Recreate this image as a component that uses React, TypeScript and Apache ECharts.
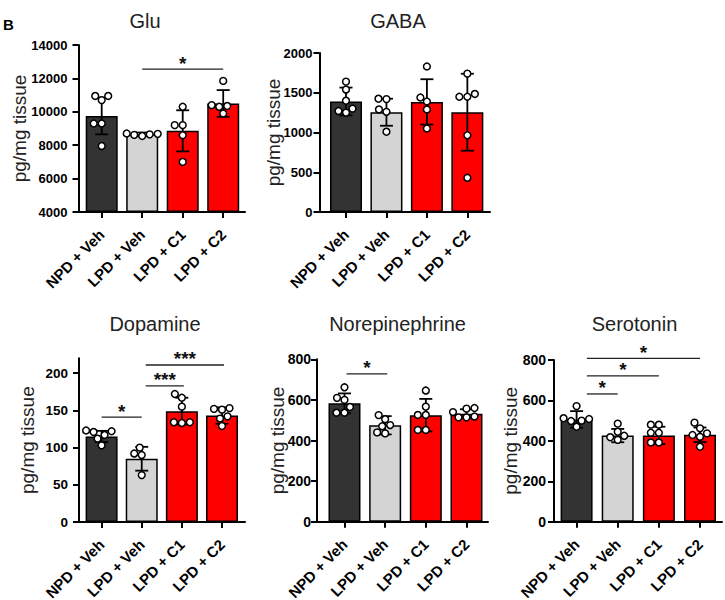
import React, { useEffect, useRef } from "react";
import * as echarts from "echarts";

const categories = ["NPD + Veh", "LPD + Veh", "LPD + C1", "LPD + C2"];

// ---- Glu ----
const gluMean = [9750, 8650, 8860, 10500];
const gluSD = [1100, 110, 1230, 800];
const gluPoints = [
  [10950, 10950, 10700, 9300, 9300, 7950],
  [8700, 8680, 8650, 8620, 8550],
  [10300, 9200, 9200, 8600, 7000],
  [11850, 10400, 10350, 10300, 9900],
];
const gluTicks = [4000, 6000, 8000, 10000, 12000, 14000];
const gluSig: [number, number, number, string][] = [[1, 3, 12560, "*"]];

// ---- GABA ----
const gabaMean = [1390, 1255, 1385, 1255];
const gabaSD = [175, 170, 285, 484];
const gabaPoints = [
  [1640, 1540, 1400, 1300, 1270, 1250],
  [1425, 1420, 1290, 1260, 1010],
  [1830, 1440, 1390, 1290, 1050],
  [1740, 1485, 1450, 1450, 965, 430],
];
const gabaTicks = [0, 500, 1000, 1500, 2000];
const gabaSig: [number, number, number, string][] = [];

// ---- Dopamine ----
const daMean = [115, 85, 149, 143];
const daSD = [7.5, 16, 18, 11];
const daPoints = [
  [123, 122, 121, 117, 112, 103],
  [100, 92, 90, 63],
  [172, 167, 155, 134, 134, 133],
  [153, 152, 151, 142, 139, 129],
];
const daTicks = [0, 50, 100, 150, 200];
const daSig: [number, number, number, string][] = [
  [0, 1, 141, "*"],
  [1.1, 2.05, 183, "***"],
  [1.1, 3.05, 211, "***"],
];

// ---- Norepinephrine ----
const neMean = [583, 475, 525, 532];
const neSD = [49, 45, 80, 22];
const nePoints = [
  [662, 610, 600, 565, 537, 537],
  [525, 505, 476, 470, 440, 435],
  [646, 567, 526, 526, 452, 452],
  [560, 557, 540, 518, 514, 514],
];
const neTicks = [0, 200, 400, 600, 800];
const neSig: [number, number, number, string][] = [[0.05, 1.05, 728, "*"]];

// ---- Serotonin ----
const serMean = [506, 426, 427, 430];
const serSD = [41, 33, 43, 36];
const serPoints = [
  [572, 512, 508, 500, 498, 470],
  [485, 445, 425, 418, 405],
  [480, 480, 440, 440, 392, 392],
  [490, 462, 437, 429, 420, 371],
];
const serTicks = [0, 200, 400, 600, 800];
const serSig: [number, number, number, string][] = [
  [0.25, 1, 632, "*"],
  [0.25, 2, 721, "*"],
  [0.25, 3, 808, "*"],
];

const FONT = '"Liberation Sans", Arial, Helvetica, sans-serif';
const barColors = ["#333333", "#d4d4d4", "#ff0000", "#ff0000"];

const panels = [
  { title: "Glu", mean: gluMean, sd: gluSD, points: gluPoints, ticks: gluTicks, sig: gluSig, yMin: 4000, yMax: 14000,
    L: { axisX: 78.5, top: 45, bottom: 212, right: 245, xMin: -0.573, xMax: 3.538, titleX: 145, titleY: 20.5, nameGap: 50, labelMargin: 11, tickFont: 13 } },
  { title: "GABA", mean: gabaMean, sd: gabaSD, points: gabaPoints, ticks: gabaTicks, sig: gabaSig, yMin: 0, yMax: 2000,
    L: { axisX: 319.5, top: 53, bottom: 212, right: 490, xMin: -0.655, xMax: 3.56, titleX: 398, titleY: 20.5, nameGap: 37, labelMargin: 7, tickFont: 13 } },
  { title: "Dopamine", mean: daMean, sd: daSD, points: daPoints, ticks: daTicks, sig: daSig, yMin: 0, yMax: 220,
    L: { axisX: 79, top: 358.3, bottom: 522, right: 245, xMin: -0.563, xMax: 3.573, titleX: 155, titleY: 323.5, nameGap: 42, labelMargin: 11, tickFont: 13.5 } },
  { title: "Norepinephrine", mean: neMean, sd: neSD, points: nePoints, ticks: neTicks, sig: neSig, yMin: 0, yMax: 800,
    L: { axisX: 317, top: 359.3, bottom: 521.7, right: 488, xMin: -0.676, xMax: 3.529, titleX: 397.5, titleY: 323.5, nameGap: 30, labelMargin: 6, tickFont: 14 } },
  { title: "Serotonin", mean: serMean, sd: serSD, points: serPoints, ticks: serTicks, sig: serSig, yMin: 0, yMax: 800,
    L: { axisX: 554, top: 360, bottom: 521.7, right: 722, xMin: -0.549, xMax: 3.535, titleX: 634.5, titleY: 323.5, nameGap: 34, labelMargin: 8, tickFont: 14 } },
];

// simple beeswarm layout in pixel space
function swarm(ys: number[], minDist: number): number[] {
  const idx = ys.map((_, k) => k).sort((a, b) => ys[b] - ys[a]);
  const placed: { x: number; y: number }[] = [];
  const xs = ys.map(() => 0);
  for (const k of idx) {
    const y = ys[k];
    let chosen = 0;
    for (let step = 0; step < 400; step++) {
      const c = step === 0 ? 0 : (step % 2 ? -1 : 1) * Math.ceil(step / 2) * 0.5;
      if (placed.every((p) => Math.hypot(p.x - c, p.y - y) >= minDist)) {
        chosen = c;
        break;
      }
    }
    xs[k] = chosen;
    placed.push({ x: chosen, y });
  }
  return xs;
}

function buildOption() {
  const grid: any[] = [];
  const xAxis: any[] = [];
  const yAxis: any[] = [];
  const series: any[] = [];
  const graphic: any[] = [
    { type: "text", x: 3, y: 24, style: { text: "B", fill: "#000", font: `bold 15px ${FONT}`, align: "left", verticalAlign: "middle", textAlign: "left", textVerticalAlign: "middle" } },
  ];

  panels.forEach((p, k) => {
    const L = p.L;
    grid.push({ left: L.axisX, top: L.top, width: L.right - L.axisX, height: L.bottom - L.top, containLabel: false, outerBoundsMode: "none" });
    xAxis.push({
      type: "value", gridIndex: k, min: L.xMin, max: L.xMax,
      axisLine: { show: true, onZero: false, lineStyle: { color: "#000", width: 2 } },
      axisTick: { show: true, customValues: [0, 1, 2, 3], length: 6, lineStyle: { color: "#000", width: 2 } },
      axisLabel: {
        show: true, customValues: [0, 1, 2, 3], rotate: 45, margin: 20, padding: [10, 0, 0, 0],
        formatter: (v: number) => categories[Math.round(v)] ?? "",
        color: "#000", fontSize: 15, fontWeight: "bold", fontFamily: FONT,
      },
      splitLine: { show: false },
    });
    yAxis.push({
      type: "value", gridIndex: k, min: p.yMin, max: p.yMax, startValue: p.yMin,
      name: "pg/mg tissue", nameLocation: "middle", nameGap: L.nameGap, nameMoveOverlap: false,
      nameTextStyle: { color: "#222", fontSize: 19, fontFamily: FONT },
      axisLine: { show: true, onZero: false, lineStyle: { color: "#000", width: 2 } },
      axisTick: { show: true, customValues: p.ticks, length: 6, lineStyle: { color: "#000", width: 2 } },
      axisLabel: {
        show: true, customValues: p.ticks, margin: L.labelMargin,
        formatter: (v: number) => String(v),
        color: "#000", fontSize: L.tickFont, fontWeight: "bold", fontFamily: FONT,
      },
      splitLine: { show: false },
    });
    graphic.push({
      type: "text", x: L.titleX, y: L.titleY,
      style: { text: p.title, fill: "#222", font: `20px ${FONT}`, align: "center", verticalAlign: "middle", textAlign: "center", textVerticalAlign: "middle" },
    });

    // bars
    series.push({
      type: "bar", xAxisIndex: k, yAxisIndex: k, barWidth: 32, clip: true, z: 2,
      data: p.mean.map((m, i) => ({ value: [i, m], itemStyle: { color: barColors[i] } })),
      itemStyle: { borderColor: "#000", borderWidth: 1.5 },
      emphasis: { disabled: true },
    });

    // error bars
    series.push({
      type: "custom", xAxisIndex: k, yAxisIndex: k, z: 3, clip: false,
      data: p.mean.map((m, i) => [i, m, p.sd[i]]),
      encode: { x: 0, y: 1 },
      renderItem: (params: any, api: any) => {
        const i = api.value(0), m = api.value(1), s = api.value(2);
        const t = api.coord([i, m + s]);
        const b = api.coord([i, m - s]);
        const half = 6.5;
        const st = { stroke: "#000", lineWidth: 1.8 };
        return {
          type: "group",
          children: [
            { type: "line", shape: { x1: t[0], y1: t[1], x2: b[0], y2: b[1] }, style: st },
            { type: "line", shape: { x1: t[0] - half, y1: t[1], x2: t[0] + half, y2: t[1] }, style: st },
            { type: "line", shape: { x1: b[0] - half, y1: b[1], x2: b[0] + half, y2: b[1] }, style: st },
          ],
        };
      },
    });

    // individual points
    const pts = p.points;
    series.push({
      type: "custom", xAxisIndex: k, yAxisIndex: k, z: 4, clip: false,
      data: p.mean.map((m, i) => [i, m]),
      encode: { x: 0, y: 1 },
      renderItem: (params: any, api: any) => {
        const i = params.dataIndex;
        const vals = pts[i];
        const cx = api.coord([i, p.yMin])[0];
        const ys = vals.map((v) => api.coord([i, v])[1]);
        const xs = swarm(ys, 7.6);
        return {
          type: "group",
          children: ys.map((y, j) => ({
            type: "circle",
            shape: { cx: cx + xs[j], cy: y, r: 3.4 },
            style: { fill: "#fff", stroke: "#000", lineWidth: 1.5 },
          })),
        };
      },
    });

    // significance brackets
    if (p.sig.length) {
      const sig = p.sig;
      series.push({
        type: "custom", xAxisIndex: k, yAxisIndex: k, z: 5, clip: false,
        data: sig.map((s) => [s[0], s[2], s[1]]),
        encode: { x: [0, 2], y: 1 },
        renderItem: (params: any, api: any) => {
          const a = api.coord([api.value(0), api.value(1)]);
          const b = api.coord([api.value(2), api.value(1)]);
          const label = sig[params.dataIndex][3];
          return {
            type: "group",
            children: [
              { type: "line", shape: { x1: a[0], y1: a[1], x2: b[0], y2: b[1] }, style: { stroke: "#222", lineWidth: 1.3 } },
              {
                type: "text", x: (a[0] + b[0]) / 2, y: a[1] - 6,
                style: { text: label, fill: "#111", font: `bold 19px ${FONT}`, align: "center", verticalAlign: "middle", textAlign: "center", textVerticalAlign: "middle" },
              },
            ],
          };
        },
      });
    }
  });

  return { animation: false, backgroundColor: "#fff", grid, xAxis, yAxis, series, graphic, tooltip: { show: false } };
}

export default function App() {
  const ref = useRef<HTMLDivElement>(null);
  useEffect(() => {
    if (!ref.current) return;
    const chart = echarts.init(ref.current, null, { renderer: "svg" });
    chart.setOption(buildOption() as any);
    return () => chart.dispose();
  }, []);
  return <div ref={ref} style={{ position: "absolute", left: 0, top: 0, width: 725, height: 600 }} />;
}
